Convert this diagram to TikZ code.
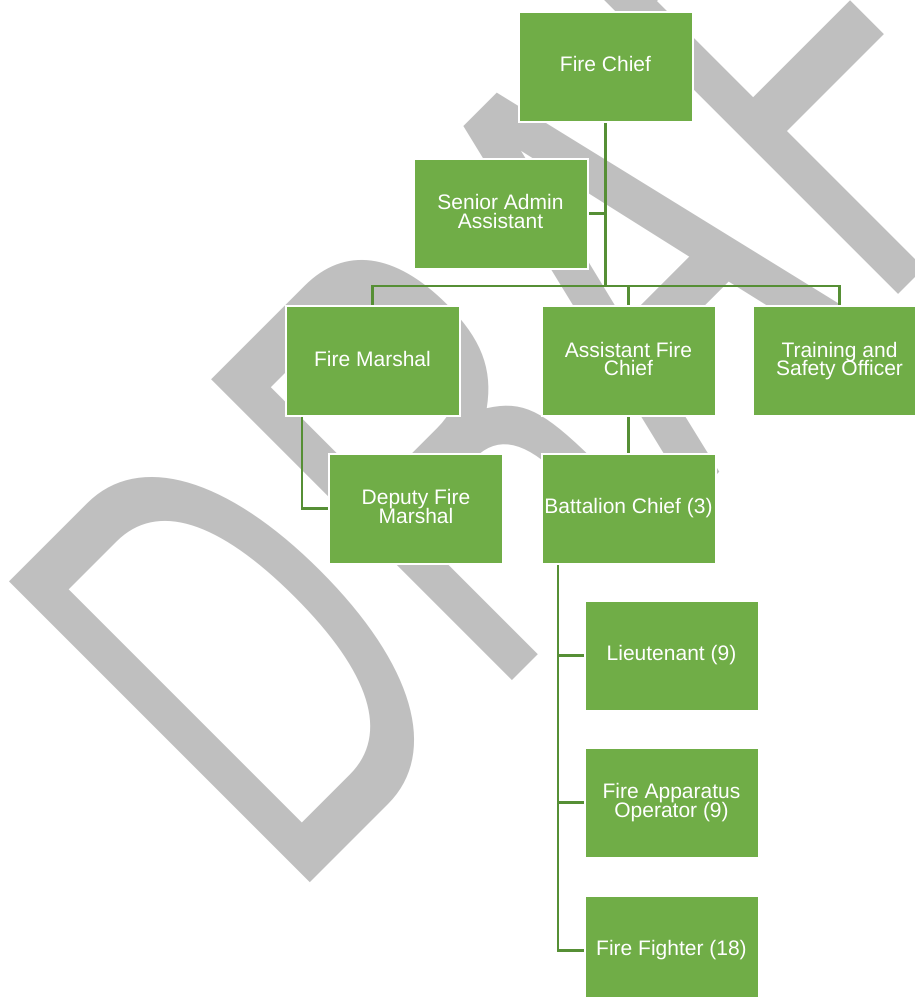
\documentclass[tikz,border=0pt]{standalone}
\usepackage{fontspec}
\usepackage{graphicx}
\setmainfont{Liberation Sans}
\newfontfamily\wmfont{TeX Gyre Heros}
\definecolor{boxgreen}{HTML}{70AD47}
\definecolor{linkgreen}{HTML}{568F35}
\definecolor{wmgrey}{HTML}{BFBFBF}
\pgfdeclarelayer{wmlayer}
\pgfdeclarelayer{linklayer}
\pgfsetlayers{wmlayer,linklayer,main}
\begin{document}
\setlength{\lineskiplimit}{-50pt}
\begin{tikzpicture}[x=1pt,y=-1pt,
  post/.style={rectangle, fill=boxgreen, draw=white, line width=2pt,
    minimum width=174pt, minimum height=110pt, inner sep=1pt,
    text=white, align=center, text depth=4.5pt,
    font=\fontsize{21}{18.5}\selectfont},
  link/.style={draw=linkgreen, line width=2.5pt, line join=miter},
  watermark/.style={inner sep=0, anchor=base west, rotate=45, text=wmgrey,
    font=\wmfont\fontsize{583.6}{600}\selectfont}]
\useasboundingbox (0,0) rectangle (915,997);
\clip (0,0) rectangle (915,997);

% org chart boxes
\node[post] (chief)     at (605.5,66.5)  {Fire Chief};
\node[post] (admin)     at (500.5,213.5) {Senior Admin\\Assistant};
\node[post] (marshal)   at (372.5,361)   {Fire Marshal};
\node[post] (asst)      at (628.5,361)   {Assistant Fire\\Chief};
\node[post] (training)  at (839.5,361)   {Training and\\Safety Officer};
\node[post] (deputy)    at (416,508.5)   {Deputy Fire\\Marshal};
\node[post] (battalion) at (628.5,508.5) {Battalion Chief (3)};
\node[post] (lieut)     at (671.5,655.5) {Lieutenant (9)};
\node[post] (fao)       at (671.5,802.5) {Fire Apparatus\\Operator (9)};
\node[post] (ff)        at (671.5,950.5) {Fire Fighter (18)};

% diagonal DRAFT watermark behind everything
\begin{pgfonlayer}{wmlayer}
\node[watermark] (wm) at (285.1,907.3) {\scalebox{0.675}[1]{DRAFT}};
\end{pgfonlayer}

% reporting lines
\begin{pgfonlayer}{linklayer}
\coordinate (bus) at (605.5,286);
\coordinate (spine) at ([xshift=-70.5pt]battalion.south);
\draw[link] (chief.south) -- (bus);
\draw[link] (admin.east) -- (admin.east -| chief.south);
\draw[link] (marshal.north) -- (marshal.north |- bus) -- (training.north |- bus) -- (training.north);
\draw[link] (asst.north) -- (asst.north |- bus);
\draw[link] (asst.south) -- (battalion.north);
\draw[link] ([xshift=-70.5pt]marshal.south) |- (deputy.west);
\draw[link] (spine) |- (ff.west);
\draw[link] (lieut.west) -- (lieut.west -| spine);
\draw[link] (fao.west) -- (fao.west -| spine);
\end{pgfonlayer}
\end{tikzpicture}
\end{document}
